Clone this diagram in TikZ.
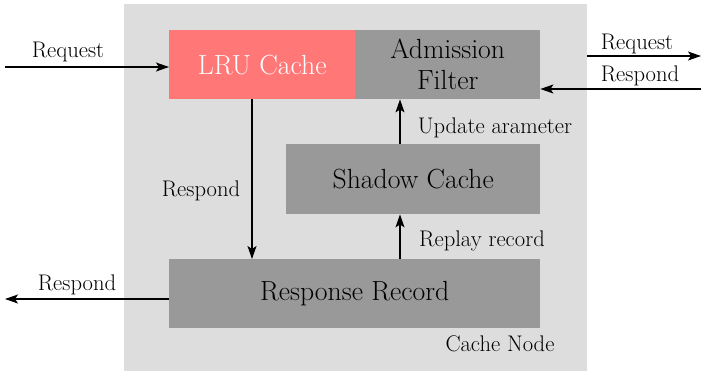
\documentclass[tikz,border=0pt]{standalone}
\usepackage{fontspec}
\usetikzlibrary{arrows.meta}
\definecolor{nodebg}{HTML}{DDDDDD}
\definecolor{boxgray}{HTML}{999999}
\definecolor{lrured}{HTML}{FF7777}
\begin{document}
\begin{tikzpicture}[x=1pt,y=-1pt,
  block/.style={draw=none,fill=boxgray,inner sep=0pt,anchor=north west,
    font=\fontsize{27.7}{33}\selectfont,align=center},
  lbl/.style={font=\fontsize{22.6}{26}\selectfont,inner sep=0pt},
  conn/.style={line width=1.1pt,-{Stealth[length=13pt,width=9pt,inset=3pt]}}]
  \useasboundingbox (0,0) rectangle (701,373);
  % cache node container
  \fill[nodebg] (124,4) rectangle (587,371);
  % blocks
  \node[block,fill=lrured,text=white,minimum width=186pt,minimum height=69pt] (lru) at (169,30) {LRU Cache};
  \node[block,minimum width=185pt,minimum height=69pt] (adm) at (355,30) {Admission\\[-2pt]Filter};
  \node[block,minimum width=254pt,minimum height=70pt] (shadow) at (286,144) {Shadow Cache};
  \node[block,minimum width=371pt,minimum height=69pt] (resp) at (169,259) {Response Record};
  % free connector ends
  \coordinate (inL) at (5,67);
  \coordinate (outL) at (5,299);
  \coordinate (reqA) at (587,56);
  \coordinate (reqB) at (701,56);
  \coordinate (rspA) at (701,89);
  % connectors
  \draw[conn] (inL) -- (inL -| lru.west);
  \draw[conn] (reqA) -- (reqB);
  \draw[conn] (rspA) -- (rspA -| adm.east);
  \draw[conn] (lru.south -| 252,0) -- (resp.north -| 252,0);
  \draw[conn] (shadow.north -| 400,0) -- (adm.south -| 400,0);
  \draw[conn] (resp.north -| 400,0) -- (shadow.south -| 400,0);
  \draw[conn] (outL -| resp.west) -- (outL);
  % labels
  \node[lbl] (l1) at (68,52) {Request};
  \node[lbl] (l2) at (637,44) {Request};
  \node[lbl] (l3) at (640,76) {Respond};
  \node[lbl] (l4) at (201,191) {Respond};
  \node[lbl] (l5) at (495,128) {Update arameter};
  \node[lbl] (l6) at (482,241) {Replay record};
  \node[lbl] (l7) at (77,285) {Respond};
  \node[lbl] (l8) at (500,344) {Cache Node};
\end{tikzpicture}
\end{document}
